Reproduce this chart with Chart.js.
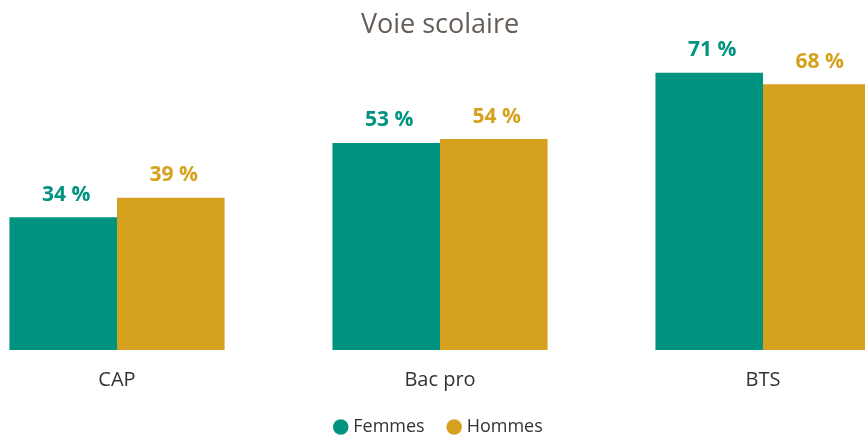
<!DOCTYPE html>
<html lang="fr">
<head>
<meta charset="utf-8">
<title>Voie scolaire</title>
<script src="https://cdn.jsdelivr.net/npm/chart.js@4/dist/chart.umd.min.js"></script>
<style>
  html, body { margin: 0; padding: 0; background: #fff; }
  .chart-box { position: relative; width: 865px; height: 435px; }
</style>
</head>
<body>
<div class="chart-box">
  <canvas id="voieChart"></canvas>
</div>
<script>
// Données
const filieres = ['CAP', 'Bac pro', 'BTS'];
const femmes = [34, 53, 71];
const hommes = [39, 54, 68];

const tealColor = '#00937f';
const goldColor = '#d6a11e';
const fontFamily = "'Open Sans'";

// Étiquettes de valeur au-dessus des barres
const valueLabels = {
  id: 'valueLabels',
  afterDatasetsDraw(chart) {
    const ctx = chart.ctx;
    ctx.save();
    ctx.font = 'bold 21px ' + fontFamily;
    ctx.textAlign = 'center';
    ctx.textBaseline = 'bottom';
    chart.data.datasets.forEach((ds, i) => {
      const meta = chart.getDatasetMeta(i);
      ctx.fillStyle = ds.backgroundColor;
      meta.data.forEach((bar, j) => {
        ctx.fillText(ds.data[j] + ' %', bar.x + 3, bar.y - 12);
      });
    });
    ctx.restore();
  }
};

const ctx = document.getElementById('voieChart').getContext('2d');
const voieChart = new Chart(ctx, {
  type: 'bar',
  data: {
    labels: filieres,
    datasets: [{
      label: 'Femmes',
      data: femmes,
      backgroundColor: tealColor,
      categoryPercentage: 0.666,
      barPercentage: 1,
      clip: false
    }, {
      label: 'Hommes',
      data: hommes,
      backgroundColor: goldColor,
      categoryPercentage: 0.666,
      barPercentage: 1,
      clip: false
    }]
  },
  options: {
    responsive: true,
    maintainAspectRatio: false,
    animation: false,
    layout: {
      padding: { left: 117, right: 102, bottom: -11 }
    },
    plugins: {
      title: {
        display: true,
        text: 'Voie scolaire',
        color: '#645c56',
        font: { family: fontFamily, size: 27, weight: 'normal' },
        padding: { top: 9, bottom: 0 }
      },
      legend: {
        position: 'bottom',
        labels: {
          usePointStyle: true,
          pointStyle: 'circle',
          boxHeight: 11,
          boxWidth: 7,
          color: '#333',
          font: { family: fontFamily, size: 18 },
          padding: 26
        }
      },
      tooltip: { enabled: false }
    },
    scales: {
      x: {
        offset: false,
        grid: { display: false, drawTicks: false },
        border: { display: false },
        ticks: {
          color: '#333',
          font: { family: fontFamily, size: 20 },
          padding: 18
        },
        // hauteur fixe de l'axe pour caler la légende
        afterFit(scale) {
          scale.height = 42;
        }
      },
      y: {
        display: false,
        min: 0,
        max: 79
      }
    }
  },
  plugins: [valueLabels]
});
</script>
</body>
</html>
